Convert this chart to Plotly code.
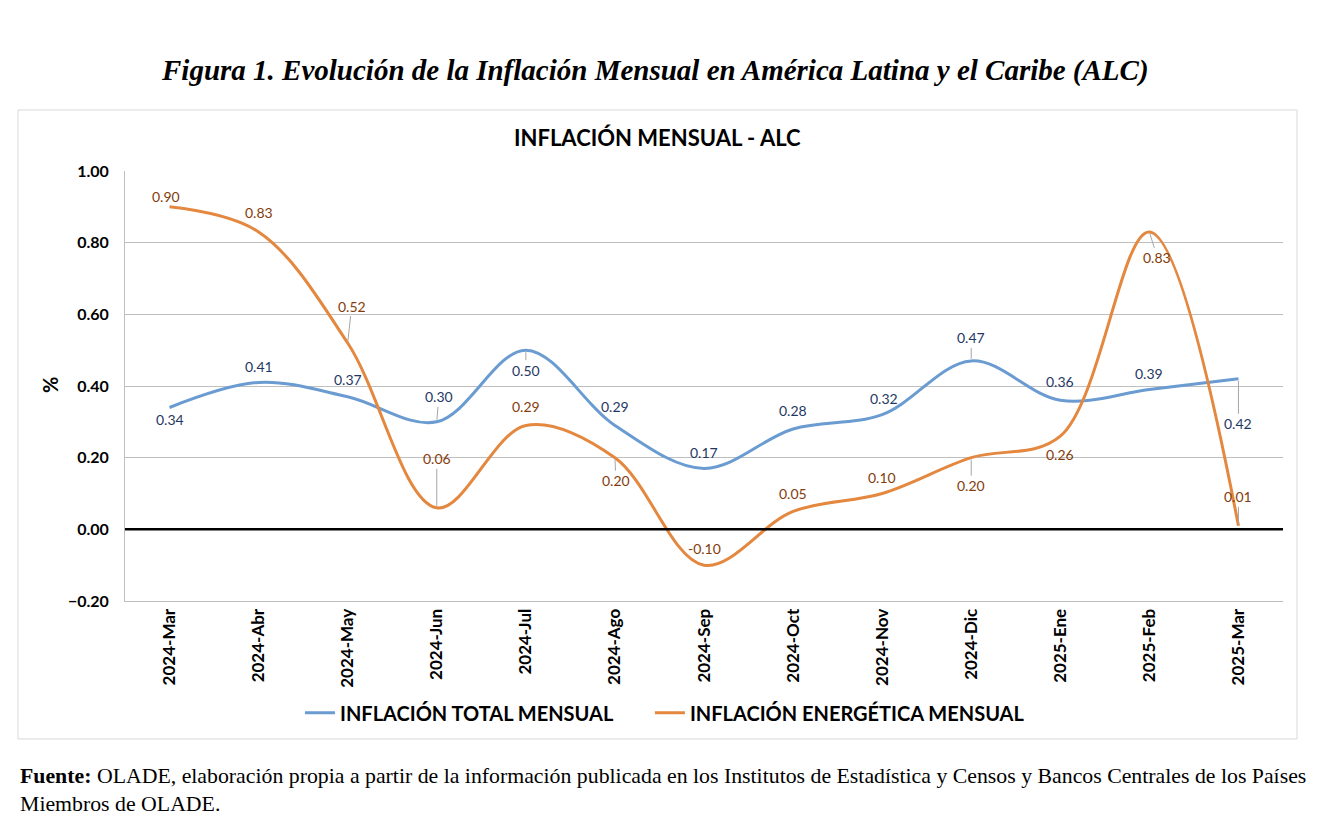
import plotly.graph_objects as go

# --------------------
# Data
# --------------------
meses = ["2024-Mar", "2024-Abr", "2024-May", "2024-Jun", "2024-Jul", "2024-Ago",
         "2024-Sep", "2024-Oct", "2024-Nov", "2024-Dic", "2025-Ene", "2025-Feb",
         "2025-Mar"]
inflacion_total = [0.34, 0.41, 0.37, 0.30, 0.50, 0.29, 0.17, 0.28, 0.32, 0.47, 0.36, 0.39, 0.42]
inflacion_energetica = [0.90, 0.83, 0.52, 0.06, 0.29, 0.20, -0.10, 0.05, 0.10, 0.20, 0.26, 0.83, 0.01]

nombre_total = "INFLACIÓN TOTAL MENSUAL"
nombre_energetica = "INFLACIÓN ENERGÉTICA MENSUAL"

# label placement (pixels from the point; positive = up) and leader-line flags
off_total = [-12, 16, 17, 25, -20, 19, 16, 19, 16, 23, 19, 16, -45]
dx_total = [0, 0, 0, 2, 0, 0, 0, 0, 2, 0, 0, 0, 0]
lead_total = [0, 0, 0, 1, 1, 0, 0, 0, 0, 1, 0, 0, 1]
off_energ = [10, 19, 37, 49, 19, -23, 17, 18, 16, -28, -18, -26, 29]
dx_energ = [-4, 0, 4, 0, 0, 1, 0, 0, 0, 0, 0, 8, 0]
lead_energ = [0, 0, 1, 1, 0, 1, 0, 0, 0, 1, 0, 1, 1]

AZUL = "#6a9bd1"
NARANJA = "#e4873f"
AZUL_TXT = "#1f3864"
NARANJA_TXT = "#843c0c"
FONT = "Lato"

fig = go.Figure()
fig.add_trace(go.Scatter(x=meses, y=inflacion_total, name=nombre_total, mode="lines",
                         legend="legend",
                         line=dict(color=AZUL, width=3, shape="spline", smoothing=1.0)))
fig.add_trace(go.Scatter(x=meses, y=inflacion_energetica, name=nombre_energetica, mode="lines",
                         legend="legend2",
                         line=dict(color=NARANJA, width=3, shape="spline", smoothing=1.0)))


def add_labels(vals, offs, dxs, leads, color):
    for m, v, o, dx, ld in zip(meses, vals, offs, dxs, leads):
        txt = f"{v:.2f}"
        if ld:
            fig.add_annotation(x=m, y=v, xref="x", yref="y", text=txt, showarrow=True,
                               ax=dx, ay=-o, arrowhead=0, arrowwidth=1, arrowcolor="#a6a6a6",
                               standoff=2, font=dict(family=FONT, size=14, color=color))
        else:
            fig.add_annotation(x=m, y=v, xref="x", yref="y", text=txt, showarrow=False,
                               xshift=dx, yshift=o, font=dict(family=FONT, size=14, color=color))


add_labels(inflacion_total, off_total, dx_total, lead_total, AZUL_TXT)
add_labels(inflacion_energetica, off_energ, dx_energ, lead_energ, NARANJA_TXT)

# zero line
fig.add_shape(type="line", xref="paper", yref="y", x0=0, x1=1, y0=0, y1=0,
              line=dict(color="black", width=2.5))

# chart frame
fig.add_shape(type="rect", xref="paper", yref="paper", x0=-0.0924, x1=1.0121,
              y0=-0.3209, y1=1.1419, line=dict(color="#d9d9d9", width=1), layer="below")

# titles and texts
fig.add_annotation(xref="paper", yref="paper", x=0.4577, y=1.2326, showarrow=False,
                   xanchor="center", yanchor="middle",
                   text="<b><i>Figura 1. Evolución de la Inflación Mensual en América Latina y el Caribe (ALC)</i></b>",
                   font=dict(family="Liberation Serif", size=29, color="black"))
fig.add_annotation(xref="paper", yref="paper", x=0.46, y=1.079, showarrow=False,
                   xanchor="center", yanchor="middle",
                   text="<b>INFLACIÓN MENSUAL - ALC</b>",
                   font=dict(family=FONT, size=22, color="black"))
fig.add_annotation(xref="paper", yref="paper", x=-0.0648, y=0.502, showarrow=False,
                   xanchor="center", yanchor="middle",
                   text="<b>%</b>", textangle=-90,
                   font=dict(family=FONT, size=20, color="black"))
fig.add_annotation(xref="paper", yref="paper", x=-0.0924, y=-0.44, showarrow=False,
                   xanchor="left", yanchor="middle", align="left",
                   text="<b>Fuente:</b> OLADE, elaboración propia a partir de la información publicada en los Institutos de Estadística y Censos y Bancos Centrales de los Países<br>Miembros de OLADE.",
                   font=dict(family="Liberation Serif", size=21.8, color="black"))

legend_font = dict(family=FONT, size=20, color="black", weight="bold")
fig.update_layout(
    width=1342, height=826,
    margin=dict(l=117, r=67, t=163, b=233),
    paper_bgcolor="white", plot_bgcolor="white",
    showlegend=True,
    legend=dict(orientation="h", x=0.1511, xanchor="left", y=-0.26, yanchor="middle",
                font=legend_font, itemwidth=30, bgcolor="rgba(0,0,0,0)"),
    legend2=dict(orientation="h", x=0.4533, xanchor="left", y=-0.26, yanchor="middle",
                 font=legend_font, itemwidth=30, bgcolor="rgba(0,0,0,0)"),
    xaxis=dict(type="category", range=[-0.5, 12.5], showgrid=False, zeroline=False,
               showline=True, linecolor="#bfbfbf", linewidth=1, ticks="",
               tickangle=-90, ticklabelstandoff=0,
               tickfont=dict(family=FONT, size=17, color="black", weight="bold")),
    yaxis=dict(range=[-0.2, 1.0], dtick=0.2, tickformat=".2f", showgrid=True,
               gridcolor="#bfbfbf", gridwidth=1, zeroline=False,
               showline=True, linecolor="#bfbfbf", linewidth=1, ticks="",
               ticklabelstandoff=12,
               tickfont=dict(family=FONT, size=16, color="black", weight="bold")),
)

fig.write_html("out.html")
